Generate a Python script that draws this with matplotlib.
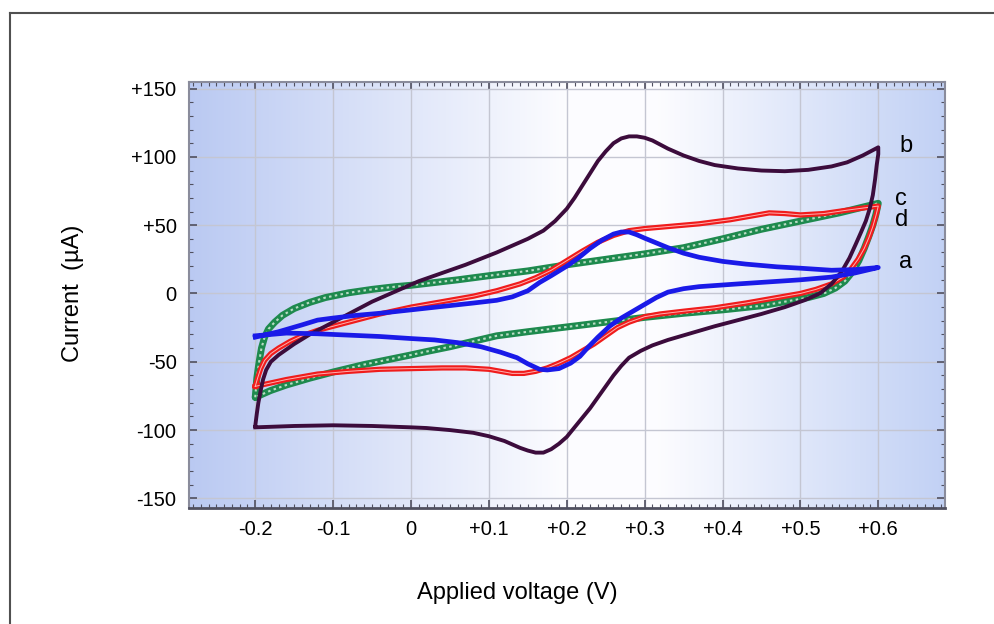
import matplotlib.pyplot as plt
import numpy as np
from matplotlib.colors import LinearSegmentedColormap
from matplotlib.lines import Line2D
from matplotlib.ticker import MultipleLocator

plt.rcParams['font.family'] = ['Liberation Sans', 'DejaVu Sans']

# tick positions / labels
xticks = [-0.2, -0.1, 0.0, 0.1, 0.2, 0.3, 0.4, 0.5, 0.6]
xticklabels = ['-0.2', '-0.1', '0', '+0.1', '+0.2', '+0.3', '+0.4', '+0.5', '+0.6']
yticks = [-150, -100, -50, 0, 50, 100, 150]
yticklabels = ['-150', '-100', '-50', '0', '+50', '+100', '+150']

# curve a (blue): forward scan then reverse scan
a_fwd_v = [-0.2, -0.17, -0.14, -0.12, -0.1, -0.07, -0.04, 0.0, 0.04, 0.08, 0.11, 0.13, 0.15,
           0.165, 0.18, 0.2, 0.215, 0.23, 0.245, 0.26, 0.27, 0.28, 0.29, 0.3, 0.315, 0.33,
           0.35, 0.37, 0.4, 0.43, 0.47, 0.5, 0.54, 0.57, 0.6]
a_fwd_i = [-32, -28, -23, -19.5, -18, -16, -14.5, -12, -9.5, -7, -5, -2.5, 2,
           8, 13, 20, 26, 33, 39, 43.5, 45, 45, 43, 40.5, 37, 33.5,
           29.5, 26.5, 23.5, 21.5, 19.5, 18.5, 17, 17.5, 19]
a_rev_v = [0.6, 0.57, 0.54, 0.5, 0.46, 0.42, 0.37, 0.35, 0.33, 0.315, 0.3, 0.285, 0.27, 0.255,
           0.24, 0.228, 0.217, 0.205, 0.19, 0.175, 0.165, 0.15, 0.136, 0.115, 0.09, 0.06,
           0.03, 0.0, -0.04, -0.08, -0.12, -0.16, -0.2]
a_rev_i = [19, 15, 12, 10, 8.5, 7, 5, 3.5, 1, -3, -8, -13, -18, -24,
           -32, -39, -46, -51, -55, -56, -55.5, -51.5, -47, -43, -39, -36,
           -34, -33, -31.5, -30.5, -29.5, -29, -31]

# curve b (dark purple)
b_fwd_v = [-0.2, -0.198, -0.196, -0.193, -0.19, -0.186, -0.18, -0.17, -0.16, -0.15, -0.13,
           -0.11, -0.09, -0.07, -0.05, -0.03, -0.01, 0.01, 0.03, 0.05, 0.07, 0.09, 0.11, 0.13,
           0.15, 0.17, 0.185, 0.2, 0.21, 0.22, 0.23, 0.24, 0.25, 0.26, 0.27, 0.28, 0.29, 0.3,
           0.31, 0.33, 0.35, 0.37, 0.39, 0.42, 0.45, 0.48, 0.51, 0.54, 0.56, 0.58, 0.6]
b_fwd_i = [-97, -88, -80, -71, -63, -56, -50, -45, -41, -37, -30,
           -24, -18, -12, -6, -1, 4, 9, 13, 17, 21, 25.5, 30, 35,
           40, 46, 53, 62, 70, 79, 88, 97, 104, 110, 113.5, 115, 115, 114,
           112, 106, 101, 97, 94, 91.5, 90, 89.5, 90.5, 93, 96, 101, 107]
b_rev_v = [0.6, 0.598, 0.596, 0.593, 0.589, 0.584, 0.578, 0.571, 0.563, 0.553, 0.54, 0.525,
           0.505, 0.48, 0.45, 0.42, 0.39, 0.36, 0.33, 0.31, 0.295, 0.28, 0.27, 0.26, 0.25,
           0.24, 0.23, 0.22, 0.21, 0.2, 0.19, 0.18, 0.17, 0.16, 0.15, 0.14, 0.12, 0.1, 0.08,
           0.05, 0.02, 0.0, -0.05, -0.1, -0.15, -0.2]
b_rev_i = [102, 94, 84, 72, 62, 53, 45, 36, 26, 16, 7, 0,
           -5, -10, -15, -19.5, -24, -29, -34, -38, -42, -47, -53, -60, -68,
           -76, -84, -91, -98, -105, -110, -114, -116.5, -116.5, -115, -113, -108, -104.5, -102,
           -100, -98.5, -98, -97, -96.5, -97, -98]

# curve c (red)
c_fwd_v = [-0.2, -0.197, -0.193, -0.188, -0.18, -0.17, -0.155, -0.14, -0.12, -0.1, -0.07,
           -0.04, 0.0, 0.04, 0.08, 0.11, 0.14, 0.16, 0.18, 0.2, 0.22, 0.24, 0.26, 0.28, 0.3,
           0.33, 0.37, 0.41, 0.44, 0.46, 0.48, 0.5, 0.53, 0.56, 0.58, 0.6]
c_fwd_i = [-68, -62, -55, -49, -44, -40, -35, -31, -27, -24, -19.5,
           -15, -10, -6, -2, 2, 7, 11.5, 17, 24, 31, 37.5, 42.5, 46, 47.5,
           49, 51, 54, 57, 59, 58.5, 57.5, 58.5, 61, 62.5, 64]
c_rev_v = [0.6, 0.597, 0.593, 0.588, 0.582, 0.574, 0.565, 0.555, 0.54, 0.52, 0.5, 0.47, 0.43,
           0.39, 0.35, 0.32, 0.3, 0.28, 0.265, 0.25, 0.235, 0.22, 0.205, 0.19, 0.175, 0.16,
           0.145, 0.13, 0.115, 0.1, 0.07, 0.04, 0.0, -0.04, -0.08, -0.12, -0.16, -0.2]
c_rev_i = [64, 57, 49, 41, 33, 25, 18, 12, 7, 3, 0, -3, -7,
           -10.5, -13, -15, -17, -21, -25, -31, -37, -42, -47, -51, -54.5, -57,
           -58.5, -58.5, -57, -55.5, -54.5, -54.5, -55, -55.5, -57, -59, -63, -68]

# curve d (green)
d_fwd_v = [-0.2, -0.198, -0.195, -0.192, -0.188, -0.183, -0.175, -0.165, -0.15, -0.13, -0.11,
           -0.08, -0.05, -0.02, 0.0, 0.03, 0.06, 0.1, 0.15, 0.2, 0.25, 0.3, 0.35, 0.4, 0.45,
           0.5, 0.55, 0.6]
d_fwd_i = [-76, -62, -50, -40, -32, -26, -21, -16, -11, -6.5, -3,
           0.5, 3, 5, 6, 8, 10, 13, 16.5, 21, 25, 29, 33.5, 40, 47,
           53, 59, 66]
d_rev_v = [0.6, 0.597, 0.593, 0.588, 0.582, 0.575, 0.567, 0.557, 0.545, 0.53, 0.51, 0.48, 0.45,
           0.4, 0.35, 0.3, 0.25, 0.2, 0.15, 0.11, 0.08, 0.05, 0.02, 0.0, -0.03, -0.06, -0.1,
           -0.13, -0.16, -0.18, -0.2]
d_rev_i = [66, 58, 50, 42, 33, 24, 16, 9, 4, 0, -3, -6, -9,
           -12, -14.5, -17.5, -21, -24.5, -28, -31, -35, -39, -42.5, -45, -48.5, -52, -57.5,
           -62, -67, -71, -76]

labels = ['b', 'c', 'd', 'a']
label_x = [0.627, 0.622, 0.622, 0.627]
label_y = [108, 69, 54, 23]

fig = plt.figure(figsize=(9.95, 6.24), dpi=100)
ax = fig.add_axes([0.19, 0.186, 0.76, 0.683])

# horizontal blue-white-blue background
bg = LinearSegmentedColormap.from_list('bg', [(0.0, (0.73, 0.79, 0.95)),
                                              (0.5, (0.99, 0.99, 1.0)),
                                              (0.62, (0.99, 0.99, 1.0)),
                                              (1.0, (0.76, 0.82, 0.96))])
ax.imshow(np.linspace(0, 1, 256).reshape(1, -1), cmap=bg, extent=[0, 1, 0, 1],
          transform=ax.transAxes, aspect='auto', zorder=0)

green = '#1e8a4e'
red = '#f01c1c'
purple = '#3c0c3c'
blue = '#1a1ae8'

d_v = d_fwd_v + d_rev_v
d_i = d_fwd_i + d_rev_i
ax.plot(d_v, d_i, color=green, lw=5, zorder=3, solid_capstyle='round')
ax.plot(d_v, d_i, color='#b8dcc4', lw=1.5, ls=(0, (1.2, 1.6)), zorder=3)

c_v = c_fwd_v + c_rev_v
c_i = c_fwd_i + c_rev_i
ax.plot(c_v, c_i, color=red, lw=3.8, zorder=4)
ax.plot(c_v, c_i, color='#ffb0b0', lw=0.7, zorder=4)

ax.plot(b_fwd_v + b_rev_v, b_fwd_i + b_rev_i, color=purple, lw=2.8, zorder=5)
ax.plot(a_fwd_v + a_rev_v, a_fwd_i + a_rev_i, color=blue, lw=3.4, zorder=6)

for t, x, y in zip(labels, label_x, label_y):
    ax.text(x, y, t, fontsize=17, ha='left', va='center', zorder=7)

ax.set_xlim(-0.285, 0.686)
ax.set_ylim(-157, 155)
ax.set_xticks(xticks)
ax.set_xticklabels(xticklabels)
ax.set_yticks(yticks)
ax.set_yticklabels(yticklabels)
ax.xaxis.set_minor_locator(MultipleLocator(0.01))
ax.yaxis.set_minor_locator(MultipleLocator(10))
ax.tick_params(which='both', direction='in', top=True, right=True, color='#505060',
               labelsize=14.5)
ax.tick_params(which='major', length=6, width=1.2, pad=9)
ax.tick_params(which='minor', length=3, width=0.8)
ax.grid(True, which='major', color='#c4c6d2', lw=1, zorder=1)
ax.set_axisbelow(True)
for s in ax.spines.values():
    s.set_color('#8a8c9c')
    s.set_linewidth(1.5)
ax.spines['bottom'].set_color('#505060')
ax.spines['bottom'].set_linewidth(2)

fig.text(0.073, 0.53, 'Current  (µA)', rotation=90, ha='center', va='center', fontsize=17)
fig.text(0.52, 0.05, 'Applied voltage (V)', ha='center', va='center', fontsize=17)

# outer frame (only top and left edges inside the picture)
fig.add_artist(Line2D([9.5 / 995, 9.5 / 995], [0, 1 - 13 / 624], color='#505050', lw=1.5))
fig.add_artist(Line2D([9.5 / 995, 1], [1 - 13 / 624, 1 - 13 / 624], color='#505050', lw=1.5))

fig.savefig('out.png', dpi=100)
